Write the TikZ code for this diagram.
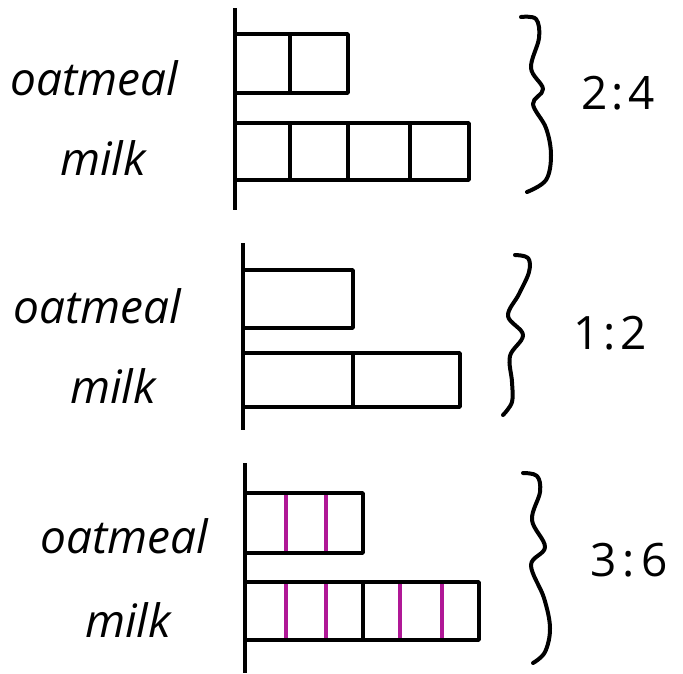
\documentclass[tikz,border=0pt]{standalone}
\usepackage{fontspec}
\setmainfont{Open Sans}
\definecolor{stripe}{RGB}{176,24,150}

\begin{document}
\begin{tikzpicture}[x=1pt, y=-1pt,
    axis/.style={line width=3.8pt},
    bar/.style={line width=3.5pt, line join=round},
    cut/.style={line width=3.5pt, stripe},
    hand/.style={line width=4pt, line cap=round, line join=round},
    word/.style={font=\fontsize{46}{50}\selectfont\itshape, inner sep=0pt, anchor=base west},
    ratio/.style={font=\fontsize{46}{50}\selectfont, inner sep=0pt}]
    \useasboundingbox (0,0) rectangle (683,673);

    % First tape: 2 parts oatmeal, 4 parts milk
    \draw[axis] (235,8) -- (235,210);
    \draw[bar] (290,34) -- (290,93);
    \draw[bar] (235,34) rectangle (348,93);
    \draw[bar] (290,123) -- (290,180) (348,123) -- (348,180) (410,123) -- (410,180);
    \draw[bar] (235,123) rectangle (469,180);
    \node[word] (oat1) at (10,95) {oatmeal};
    \node[word] (milk1) at (60,175) {milk};
    \draw[hand] plot[smooth, tension=0.6] coordinates {(521,17) (536,19) (539,38) (531,68) (543,89) (533,104) (546,128) (551,155) (546,180) (527,192)};
    \node[ratio] (r1) at (618,93) {2\kern4pt:\kern4pt4};

    % Second tape: 1 part oatmeal, 2 parts milk
    \draw[axis] (243,243) -- (243,430);
    \draw[bar] (243,270) rectangle (353,328);
    \draw[bar] (353,353) -- (353,407);
    \draw[bar] (243,353) rectangle (460,407);
    \node[word] (oat2) at (13,323) {oatmeal};
    \node[word] (milk2) at (70,403) {milk};
    \draw[hand] plot[smooth, tension=0.6] coordinates {(515,255) (528,258) (529,272) (519,294) (508,316) (523,335) (510,356) (512,382) (512,402) (503,415)};
    \node[ratio] (r2) at (610,333) {1\kern4pt:\kern4pt2};

    % Third tape: 3 parts oatmeal, 6 parts milk
    \draw[axis] (245,463) -- (245,673);
    \draw[cut] (286,493) -- (286,553) (326,493) -- (326,553);
    \draw[bar] (245,493) rectangle (363,553);
    \draw[cut] (286,582) -- (286,640) (326,582) -- (326,640) (400,582) -- (400,640) (442,582) -- (442,640);
    \draw[bar] (363,582) -- (363,640);
    \draw[bar] (245,582) rectangle (479,640);
    \node[word] (oat3) at (40,553) {oatmeal};
    \node[word] (milk3) at (85,637) {milk};
    \draw[hand] plot[smooth, tension=0.6] coordinates {(523,473) (537,476) (540,492) (532,520) (545,547) (531,565) (544,598) (550,628) (545,652) (533,663)};
    \node[ratio] (r3) at (629,560) {3\kern6pt:\kern6pt6};
\end{tikzpicture}
\end{document}
